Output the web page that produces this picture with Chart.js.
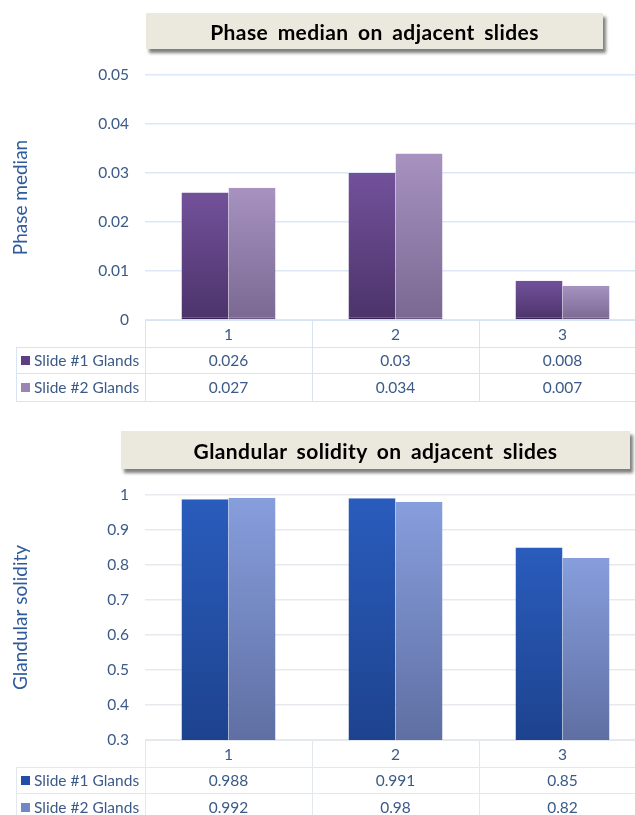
<!DOCTYPE html>
<html><head><meta charset="utf-8">
<script src="https://cdn.jsdelivr.net/npm/chart.js@4"></script>
<style>
html,body{margin:0;padding:0;width:635px;height:815px;overflow:hidden;background:#fff;font-family:Lato,sans-serif;}
.title{position:absolute;background:#ebe8dd;box-shadow:3px 4px 3px rgba(0,0,0,0.5);font-weight:bold;font-size:21px;color:#000;display:flex;align-items:center;justify-content:center;word-spacing:4px;letter-spacing:0.4px;}
canvas{position:absolute;left:0;}
</style></head><body>
<canvas id="c1" width="660" height="410" style="top:0"></canvas>
<canvas id="c2" width="660" height="405" style="top:410px"></canvas>
<div class="title" style="left:146px;top:13px;width:457px;height:36px;">Phase median on adjacent slides</div>
<div class="title" style="left:121px;top:431px;width:509px;height:38px;">Glandular solidity on adjacent slides</div>
<script>
const categories = ['1', '2', '3'];
const seriesNames = ['Slide #1 Glands', 'Slide #2 Glands'];
const phaseSlide1 = [0.026, 0.03, 0.008];
const phaseSlide2 = [0.027, 0.034, 0.007];
const phaseTicks = [0, 0.01, 0.02, 0.03, 0.04, 0.05];
const phaseTickLabels = ['0', '0.01', '0.02', '0.03', '0.04', '0.05'];
const solSlide1 = [0.988, 0.991, 0.85];
const solSlide2 = [0.992, 0.98, 0.82];
const solTicks = [0.3, 0.4, 0.5, 0.6, 0.7, 0.8, 0.9, 1];
const solTickLabels = ['0.3', '0.4', '0.5', '0.6', '0.7', '0.8', '0.9', '1'];

function barGradient(topCol, botCol) {
  return (c) => {
    const chart = c.chart;
    const ca = chart.chartArea;
    const y = chart.scales.y;
    if (!ca || !y || c.raw === undefined) return topCol;
    const t = y.getPixelForValue(c.raw);
    const g = chart.ctx.createLinearGradient(0, t, 0, ca.bottom);
    g.addColorStop(0, topCol);
    g.addColorStop(1, botCol);
    return g;
  };
}

const tablePlugin = {
  id: 'dataTable',
  afterDraw(chart, args, o) {
    const ctx = chart.ctx, ca = chart.chartArea, x = chart.scales.x;
    const n = chart.data.labels.length;
    const half = (x.getPixelForValue(1) - x.getPixelForValue(0)) / 2;
    const right = x.getPixelForValue(n - 1) + half;
    const ys = [ca.bottom];
    o.rowH.forEach(h => ys.push(ys[ys.length - 1] + h));
    const L = (x1, y1, x2, y2) => { ctx.beginPath(); ctx.moveTo(x1, y1); ctx.lineTo(x2, y2); ctx.stroke(); };
    ctx.save();
    ctx.strokeStyle = o.lineColor; ctx.lineWidth = 1;
    L(ca.left, Math.round(ys[0]) + 0.5, right, Math.round(ys[0]) + 0.5);
    for (let k = 1; k < ys.length; k++) L(o.left, Math.round(ys[k]) + 0.5, right, Math.round(ys[k]) + 0.5);
    L(o.left + 0.5, ys[1], o.left + 0.5, ys[ys.length - 1]);
    for (let i = 0; i < n; i++) {
      const xb = Math.round(x.getPixelForValue(i) - half) + 0.5;
      L(xb, ys[0], xb, ys[ys.length - 1]);
    }
    ctx.fillStyle = o.textColor;
    ctx.font = '15.5px Lato';
    ctx.textAlign = 'center'; ctx.textBaseline = 'middle';
    chart.data.labels.forEach((c, i) => ctx.fillText(c, x.getPixelForValue(i), (ys[0] + ys[1]) / 2 + 1));
    chart.data.datasets.forEach((ds, r) => {
      const yc = (ys[r + 1] + ys[r + 2]) / 2 + 1;
      ctx.fillStyle = o.textColor; ctx.textAlign = 'center';
      ds.data.forEach((v, i) => ctx.fillText(String(v), x.getPixelForValue(i), yc));
      ctx.fillStyle = o.swatch[r];
      ctx.fillRect(o.left + 5, Math.round(yc - 5), 9, 9);
      ctx.fillStyle = o.textColor; ctx.textAlign = 'left';
      ctx.fillText(ds.label, o.left + 18, yc);
    });
    ctx.restore();
  }
};

function makeChart(id, d1, d2, ticks, tickLabels, ymin, ymax, yTitle, cols, swatch, gridCol, tableLine, pad) {
  return new Chart(document.getElementById(id), {
    type: 'bar',
    plugins: [tablePlugin],
    data: {
      labels: categories,
      datasets: [
        { label: seriesNames[0], data: d1, backgroundColor: barGradient(cols[0], cols[1]), borderColor: cols[4], borderWidth: {top: 0, left: 0, right: 0, bottom: 1.5}, borderSkipped: false },
        { label: seriesNames[1], data: d2, backgroundColor: barGradient(cols[2], cols[3]), borderColor: cols[5], borderWidth: {top: 0, left: 0, right: 0, bottom: 1.5}, borderSkipped: false }
      ]
    },
    options: {
      responsive: false,
      animation: false,
      devicePixelRatio: 1,
      layout: { padding: pad },
      datasets: { bar: { categoryPercentage: 0.563, barPercentage: 1 } },
      plugins: {
        legend: { display: false },
        tooltip: { enabled: false },
        dataTable: { left: 16, rowH: [27, 26, 28], lineColor: tableLine, textColor: '#3b5a88', swatch: swatch }
      },
      scales: {
        x: { display: false },
        y: {
          min: ymin, max: ymax,
          afterBuildTicks: (s) => { s.ticks = ticks.map(v => ({ value: v })); },
          afterFit: (s) => { s.width = 145; },
          border: { display: false },
          grid: { color: gridCol, drawTicks: false, lineWidth: 1.5 },
          ticks: { padding: 16, color: '#3b5a88', font: { family: 'Lato', size: 15.5 }, callback: (v, i) => tickLabels[i] },
          title: { display: true, text: yTitle, color: '#2f5b9c', font: { family: 'Lato', size: 19 }, padding: { top: 9, bottom: 0 } }
        }
      }
    }
  });
}

makeChart('c1', phaseSlide1, phaseSlide2, phaseTicks, phaseTickLabels, 0, 0.05, 'Phase median',
  ['#72519b', '#4c336a', '#a792c0', '#7a6892', '#3a2656', '#6a5a80'],
  ['#5e3f85', '#9a86b3'], '#dce8f6', '#d6e4f4',
  { left: 0, right: 14, top: 75, bottom: 90 });

makeChart('c2', solSlide1, solSlide2, solTicks, solTickLabels, 0.3, 1, 'Glandular solidity',
  ['#2a5cbd', '#1d438e', '#879edd', '#5f6fa3', '#10307a', '#50609a'],
  ['#234ea6', '#7487c5'], '#e6eaee', '#e3e8ed',
  { left: 0, right: 14, top: 85, bottom: 75 });
</script>
</body></html>
